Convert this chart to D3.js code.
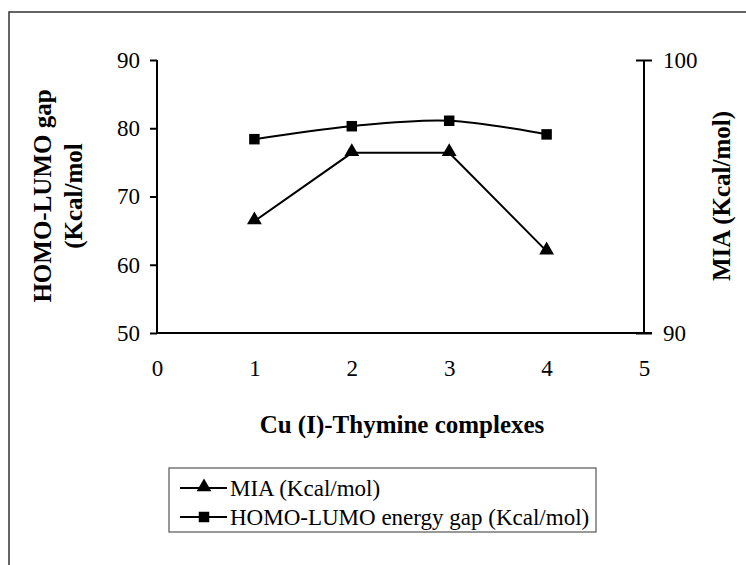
<!DOCTYPE html>
<html>
<head>
<meta charset="utf-8">
<script src="https://cdnjs.cloudflare.com/ajax/libs/d3/7.8.5/d3.min.js"></script>
</head>
<body style="margin:0; background:#fff">
<div id="chart"></div>
<script>
// complex number on the x axis
const complexes = [1, 2, 3, 4];
// MIA (Kcal/mol), right axis
const miaValues = [94.1, 96.6, 96.6, 93.0];
// HOMO-LUMO energy gap (Kcal/mol), left axis
const gapValues = [78.4, 80.3, 81.1, 79.1];
const xTicks = [0, 1, 2, 3, 4, 5];
const leftTicks = [50, 60, 70, 80, 90];
const rightTicks = [90, 100];
const legendLabels = ["MIA (Kcal/mol)", "HOMO-LUMO energy gap (Kcal/mol)"];

const FONT = "'Liberation Serif', 'Times New Roman', serif";
const width = 746, height = 565;
const svg = d3.select("#chart").append("svg")
    .attr("width", width)
    .attr("height", height)
    .attr("font-family", FONT);

// outer frame (runs off the right and bottom edges)
svg.append("rect")
    .attr("x", 9).attr("y", 12)
    .attr("width", 800).attr("height", 600)
    .attr("fill", "none")
    .attr("stroke", "#333")
    .attr("stroke-width", 1.5);

const x = d3.scaleLinear().domain([0, 5]).range([157, 644]);
const yL = d3.scaleLinear().domain([50, 90]).range([333, 60]);
const yR = d3.scaleLinear().domain([90, 100]).range([333, 60]);

// left axis
const gLeft = svg.append("g").attr("transform", "translate(157,0)")
    .call(d3.axisLeft(yL).tickValues(leftTicks).tickSize(7).tickPadding(10).tickFormat(d3.format("d")));
// right axis, ticks cross the line
const gRight = svg.append("g").attr("transform", "translate(644,0)")
    .call(d3.axisRight(yR).tickValues(rightTicks).tickSize(8).tickPadding(11).tickFormat(d3.format("d")));
gRight.selectAll(".tick line").attr("x1", -8);
// x axis without ticks
const gX = svg.append("g").attr("transform", "translate(0,333)")
    .call(d3.axisBottom(x).tickValues(xTicks).tickSize(0).tickPadding(27).tickFormat(d3.format("d")));

[gLeft, gRight, gX].forEach(g => {
    g.attr("font-family", FONT).attr("font-size", 23);
    g.select(".domain").attr("stroke", "#000").attr("stroke-width", 2);
    g.selectAll(".tick line").attr("stroke", "#000").attr("stroke-width", 2);
    g.selectAll(".tick text").attr("fill", "#000");
});
gLeft.select(".domain").attr("d", "M0,333V60");
gRight.select(".domain").attr("d", "M0,333V60");
gX.select(".domain").attr("d", "M157,0H652");

// axis titles
function title(tr, txt) {
    svg.append("text")
        .attr("transform", tr)
        .attr("text-anchor", "middle")
        .attr("font-size", 25).attr("font-weight", "bold")
        .text(txt);
}
title("translate(51,196) rotate(-90)", "HOMO-LUMO gap");
title("translate(82,196) rotate(-90)", "(Kcal/mol");
title("translate(730,196) rotate(-90)", "MIA (Kcal/mol)");
title("translate(402,433)", "Cu (I)-Thymine complexes");

// series
const triangle = d3.symbol().type(d3.symbolTriangle).size(95);
const square = d3.symbol().type(d3.symbolSquare).size(110);

const gapLine = d3.line()
    .x((d, i) => x(complexes[i]))
    .y(d => yL(d))
    .curve(d3.curveCardinal.tension(0));
svg.append("path")
    .attr("d", gapLine(gapValues))
    .attr("fill", "none").attr("stroke", "#000").attr("stroke-width", 2);

const miaLine = d3.line()
    .x((d, i) => x(complexes[i]))
    .y(d => yR(d));
svg.append("path")
    .attr("d", miaLine(miaValues))
    .attr("fill", "none").attr("stroke", "#000").attr("stroke-width", 2);

svg.selectAll(".sq").data(gapValues).enter().append("path")
    .attr("class", "sq")
    .attr("d", square)
    .attr("transform", (d, i) => `translate(${x(complexes[i])},${yL(d)})`)
    .attr("fill", "#000");

svg.selectAll(".tri").data(miaValues).enter().append("path")
    .attr("class", "tri")
    .attr("d", triangle)
    .attr("transform", (d, i) => `translate(${x(complexes[i])},${yR(d) - 1})`)
    .attr("fill", "#000");

// legend
const legend = svg.append("g");
legend.append("rect")
    .attr("x", 169).attr("y", 468)
    .attr("width", 427).attr("height", 64)
    .attr("fill", "#fff").attr("stroke", "#555").attr("stroke-width", 1.2);
const shapes = [triangle, square];
legendLabels.forEach((lab, i) => {
    const cy = 488 + i * 29;
    legend.append("line")
        .attr("x1", 180).attr("x2", 227).attr("y1", cy).attr("y2", cy)
        .attr("stroke", "#000").attr("stroke-width", 2);
    legend.append("path")
        .attr("d", shapes[i])
        .attr("transform", `translate(204,${i === 0 ? cy - 1 : cy})`)
        .attr("fill", "#000");
    legend.append("text")
        .attr("x", 230).attr("y", cy + 8)
        .attr("font-size", 23)
        .text(lab);
});
</script>
</body>
</html>
